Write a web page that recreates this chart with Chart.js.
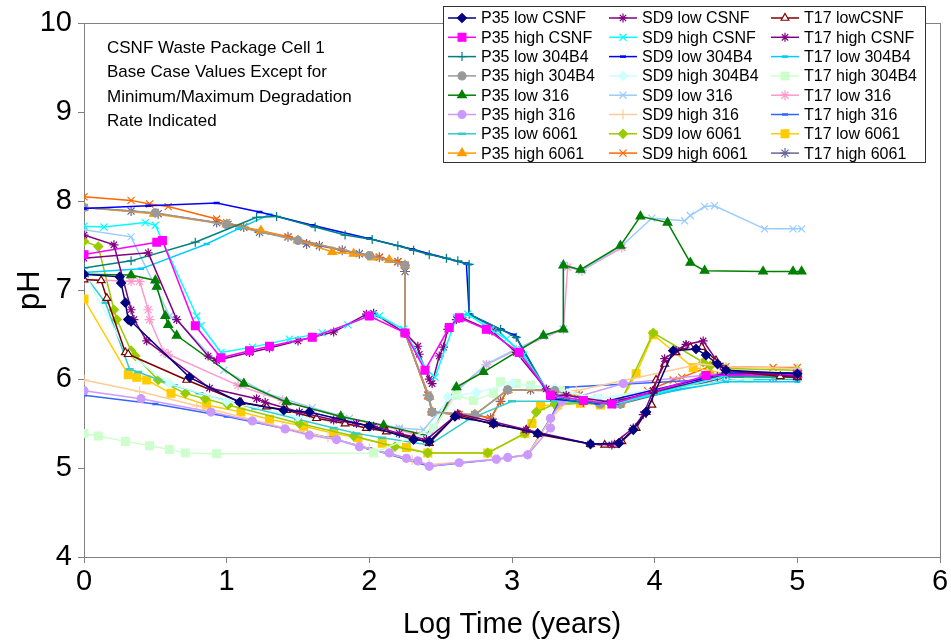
<!DOCTYPE html>
<html>
<head>
<meta charset="utf-8">
<script src="https://cdn.jsdelivr.net/npm/chart.js@4.4.0/dist/chart.umd.min.js"></script>
<style>
html, body { margin: 0; padding: 0; background: #fff; }
#wrap { width: 951px; height: 642px; }
</style>
</head>
<body>
<div id="wrap"><canvas id="chart" width="951" height="642"></canvas></div>
<script>
// --- axis ticks and labels ---
const xTicks = [0, 1, 2, 3, 4, 5, 6];
const yTicks = [4, 5, 6, 7, 8, 9, 10];
const xTitle = "Log Time (years)";
const yTitle = "pH";
const noteLines = ["CSNF Waste Package Cell 1", "Base Case Values Except for", "Minimum/Maximum Degradation", "Rate Indicated"];

// --- series values, [log time, pH] ---
const p35LowCsnf = [[0,7.18],[0.25,7.15],[0.26,7.08],[0.29,6.86],[0.31,6.67],[0.33,6.65],[0.74,6.02],[1.09,5.74],[1.40,5.65],[1.58,5.63],[2.0,5.47],[2.31,5.32],[2.42,5.30],[2.60,5.58],[2.87,5.50],[3.18,5.39],[3.55,5.27],[3.75,5.28],[3.85,5.43],[3.94,5.63],[4.13,6.32],[4.29,6.34],[4.36,6.27],[4.44,6.17],[4.50,6.10],[5.0,6.06]];
const sd9LowCsnf = [[0,7.62],[0.21,7.51],[0.33,6.78],[0.35,6.67],[0.44,6.43],[0.88,5.90],[1.21,5.78],[1.27,5.74],[1.51,5.63],[1.75,5.54],[1.91,5.50],[2.03,5.47],[2.21,5.39],[2.40,5.32],[2.62,5.61],[2.87,5.52],[3.10,5.43],[3.55,5.27],[3.70,5.26],[3.85,5.45],[3.92,5.60],[3.99,5.87],[4.07,6.23],[4.15,6.32],[4.22,6.39],[4.34,6.43],[4.46,6.15],[4.50,6.10],[5.0,6.03]];
const t17LowCsnf = [[0,7.12],[0.12,7.11],[0.16,6.91],[0.29,6.30],[0.31,6.28],[0.72,5.99],[1.10,5.74],[1.28,5.69],[1.42,5.65],[1.63,5.56],[1.83,5.50],[1.98,5.45],[2.12,5.41],[2.31,5.34],[2.42,5.28],[2.60,5.58],[2.62,5.60],[2.87,5.49],[3.10,5.43],[3.18,5.38],[3.55,5.27],[3.65,5.26],[3.72,5.26],[3.77,5.30],[3.87,5.45],[3.94,5.63],[3.98,5.71],[3.99,5.87],[4.01,5.99],[4.07,6.17],[4.15,6.30],[4.22,6.37],[4.25,6.36],[4.33,6.36],[4.43,6.21],[4.50,6.10],[4.88,6.03],[5.0,6.02]];
const p35HighCsnf = [[0,7.40],[0.51,7.54],[0.55,7.56],[0.78,6.60],[0.96,6.24],[1.16,6.32],[1.30,6.37],[1.60,6.47],[2.0,6.71],[2.25,6.52],[2.39,6.10],[2.56,6.58],[2.63,6.69],[2.82,6.56],[3.05,6.30],[3.27,5.82],[3.50,5.76],[3.70,5.72],[4.36,6.04],[5.0,6.05]];
const sd9HighCsnf = [[0,7.72],[0.14,7.71],[0.43,7.76],[0.50,7.73],[0.79,6.71],[0.82,6.60],[0.96,6.30],[1.18,6.36],[1.44,6.45],[1.67,6.52],[1.85,6.61],[2.02,6.73],[2.07,6.71],[2.24,6.56],[2.40,6.11],[2.46,6.02],[2.61,6.69],[2.69,6.73],[2.85,6.56],[2.96,6.45],[3.08,6.27],[3.27,5.82],[3.50,5.76],[3.72,5.72],[4.50,6.04],[5.0,6.04]];
const t17HighCsnf = [[0,7.36],[0.45,7.42],[0.65,6.67],[0.87,6.26],[0.93,6.21],[1.16,6.30],[1.30,6.35],[1.50,6.43],[1.75,6.53],[1.98,6.73],[2.03,6.74],[2.25,6.52],[2.34,6.37],[2.35,6.28],[2.42,6.00],[2.44,5.95],[2.49,6.26],[2.52,6.36],[2.55,6.56],[2.61,6.67],[2.65,6.69],[2.86,6.54],[3.03,6.30],[3.24,5.89],[3.29,5.82],[3.38,5.82],[3.69,5.74],[4.50,6.05],[5.0,6.04]];
const p35Low304 = [[0,7.25],[0.33,7.33],[0.78,7.54],[1.21,7.82],[1.35,7.83],[1.62,7.71],[1.83,7.62],[2.02,7.57],[2.20,7.50],[2.31,7.45],[2.42,7.40],[2.54,7.36],[2.62,7.33],[2.70,7.29],[2.70,6.73],[2.92,6.56],[3.03,6.47],[3.27,5.80],[3.50,5.74],[3.72,5.72],[4.44,6.03],[5.0,6.02]];
const sd9Low304 = [[0,7.92],[0.45,7.95],[0.93,7.98],[1.23,7.88],[1.60,7.73],[2.0,7.58],[2.30,7.46],[2.68,7.30],[2.70,6.73],[2.92,6.56],[3.01,6.50],[3.03,6.47],[3.27,5.78],[3.60,5.73],[4.50,6.07],[5.0,6.07]];
const t17Low304 = [[0,7.20],[0.40,7.24],[0.86,7.52],[1.08,7.69],[1.30,7.85],[1.62,7.72],[2.0,7.58],[2.30,7.46],[2.70,7.29],[2.70,6.73],[2.90,6.55],[3.08,6.27],[3.27,5.78],[3.60,5.72],[4.50,5.97],[5.0,5.97]];
const p35High304 = [[0,7.93],[0.50,7.87],[1.0,7.74],[1.50,7.56],[2.0,7.39],[2.25,7.28],[2.25,6.52],[2.42,5.80],[2.44,5.63],[2.74,5.60],[2.97,5.88],[3.30,5.87],[3.62,5.72],[3.76,5.72],[4.34,6.03],[5.0,6.03]];
const sd9High304 = [[0,7.20],[0.30,6.30],[0.60,5.95],[1.0,5.75],[1.50,5.58],[2.0,5.45],[2.20,5.38],[2.42,5.35],[2.55,5.80],[2.75,5.85],[3.0,5.95],[3.30,5.90],[3.60,5.78],[4.50,6.03],[5.0,6.03]];
const t17High304 = [[0,5.39],[0.10,5.36],[0.29,5.30],[0.46,5.25],[0.60,5.21],[0.71,5.17],[0.93,5.16],[2.03,5.17],[2.45,5.45],[2.61,5.82],[2.73,5.76],[2.87,5.84],[2.92,5.97],[3.03,5.95],[3.13,5.93],[3.34,5.87],[3.60,5.78],[4.66,6.01],[5.0,6.02]];
const p35Low316 = [[0,7.18],[0.33,7.17],[0.50,7.11],[0.51,7.04],[0.57,6.71],[0.59,6.61],[0.65,6.49],[1.12,5.95],[1.42,5.74],[1.80,5.58],[2.10,5.48],[2.42,5.36],[2.61,5.91],[2.80,6.08],[3.22,6.49],[3.36,6.56],[3.36,7.28],[3.48,7.23],[3.76,7.50],[3.90,7.83],[4.09,7.76],[4.25,7.31],[4.35,7.22],[4.76,7.21],[4.97,7.21],[5.03,7.21]];
const sd9Low316 = [[0,7.68],[0.33,7.60],[0.60,6.71],[0.65,6.67],[0.98,6.10],[1.28,5.84],[1.60,5.68],[1.86,5.56],[2.21,5.45],[2.38,5.43],[2.61,5.86],[2.82,6.17],[3.03,6.34],[3.22,6.48],[3.36,6.56],[3.36,7.28],[3.49,7.22],[3.77,7.50],[3.98,7.81],[4.21,7.78],[4.25,7.84],[4.35,7.94],[4.42,7.95],[4.77,7.69],[4.97,7.69],[5.03,7.69]];
const t17Low316 = [[0,7.12],[0.33,7.10],[0.39,7.10],[0.45,6.78],[0.46,6.67],[0.56,6.30],[0.59,6.28],[1.08,5.93],[1.39,5.76],[1.80,5.58],[2.21,5.43],[2.33,5.37],[2.42,5.34],[2.61,5.88],[2.82,6.16],[3.03,6.33],[3.36,6.56],[3.39,7.26],[3.49,7.22],[3.77,7.48]];
const p35High316 = [[0,5.87],[0.40,5.78],[0.89,5.63],[1.18,5.53],[1.41,5.44],[1.58,5.37],[1.77,5.32],[1.93,5.24],[2.14,5.17],[2.26,5.11],[2.34,5.08],[2.42,5.02],[2.63,5.06],[2.89,5.10],[2.97,5.12],[3.11,5.15],[3.27,5.45],[3.27,5.56],[3.35,5.75],[3.78,5.95],[4.50,6.07],[5.0,6.07]];
const sd9High316 = [[0,5.99],[0.39,5.86],[0.79,5.70],[1.39,5.46],[1.71,5.34],[2.0,5.22],[2.30,5.09],[2.42,5.04],[2.90,5.10],[3.11,5.15],[3.27,5.55],[3.45,5.87],[4.32,6.17],[4.50,6.14],[5.0,6.12]];
const t17High316 = [[0,5.82],[0.50,5.72],[1.0,5.58],[1.72,5.34],[2.0,5.22],[2.42,5.02],[2.90,5.10],[3.11,5.15],[3.27,5.56],[3.38,5.91],[4.32,5.99],[4.50,6.05],[5.0,6.05]];
const p35Low6061 = [[0,7.18],[0.15,6.86],[0.32,6.11],[0.38,6.08],[0.63,5.93],[0.81,5.84],[1.20,5.67],[1.50,5.55],[1.75,5.45],[1.91,5.39],[2.09,5.34],[2.42,5.26],[2.70,5.55],[3.0,5.75],[3.30,5.75],[3.70,5.72],[4.50,5.99],[5.0,6.00]];
const sd9Low6061 = [[0,7.55],[0.10,7.49],[0.21,6.78],[0.23,6.67],[0.33,6.32],[0.36,6.26],[0.52,5.99],[0.71,5.84],[0.85,5.78],[1.01,5.71],[1.51,5.50],[1.89,5.36],[2.18,5.24],[2.41,5.17],[2.83,5.17],[3.09,5.39],[3.17,5.63],[3.30,5.72],[3.76,5.74],[3.99,6.52],[4.34,6.19],[4.39,6.15],[4.50,6.12],[5.0,6.10]];
const t17Low6061 = [[0,6.90],[0.31,6.05],[0.37,6.02],[0.44,5.99],[0.61,5.84],[0.86,5.71],[1.10,5.63],[1.30,5.55],[1.54,5.47],[1.75,5.39],[1.92,5.34],[2.09,5.28],[2.26,5.23],[2.41,5.17],[2.83,5.17],[3.09,5.39],[3.14,5.50],[3.20,5.70],[3.32,5.71],[3.48,5.73],[3.62,5.71],[3.76,5.74],[3.87,6.06],[3.99,6.50],[4.27,6.13],[4.50,6.06],[5.0,6.04]];
const p35High6061 = [[0,7.93],[0.49,7.86],[1.0,7.74],[1.24,7.67],[1.50,7.56],[1.74,7.43],[1.89,7.41],[2.02,7.37],[2.14,7.34],[2.25,7.28],[2.25,6.52],[2.42,5.80],[2.44,5.63],[2.74,5.60],[2.97,5.88],[3.30,5.87],[3.62,5.72],[3.76,5.72],[4.40,6.05],[5.0,6.06]];
const sd9High6061 = [[0,8.05],[0.33,8.01],[0.46,7.97],[0.59,7.94],[0.93,7.80],[1.0,7.76],[1.12,7.71],[1.43,7.60],[1.81,7.45],[2.07,7.37],[2.20,7.32],[2.25,7.28],[2.25,6.52],[2.41,5.82],[2.44,5.63],[2.63,5.60],[2.74,5.60],[2.85,5.56],[2.92,5.75],[2.97,5.88],[3.13,5.88],[3.30,5.87],[3.47,5.82],[3.62,5.72],[3.76,5.72],[3.95,5.87],[4.13,5.99],[4.19,6.02],[4.43,6.17],[4.50,6.14],[4.83,6.13],[5.0,6.13]];
const t17High6061 = [[0,7.93],[0.33,7.89],[0.52,7.86],[0.93,7.76],[1.01,7.74],[1.12,7.71],[1.23,7.65],[1.43,7.60],[1.56,7.52],[1.65,7.50],[1.81,7.45],[1.93,7.41],[2.07,7.37],[2.20,7.32],[2.25,7.28],[2.25,7.21],[2.25,6.52],[2.41,5.82],[2.44,5.63],[2.63,5.60],[2.74,5.60],[2.85,5.56],[2.92,5.75],[2.97,5.88],[3.13,5.88],[3.30,5.87],[3.47,5.82],[3.62,5.72],[3.76,5.72],[4.50,6.02],[4.83,6.02],[5.0,6.02]];

// legend order (row by row, three columns)
const seriesNames = [
    "P35 low CSNF", "SD9 low CSNF", "T17 lowCSNF",
    "P35 high CSNF", "SD9 high CSNF", "T17 high CSNF",
    "P35 low 304B4", "SD9 low 304B4", "T17 low 304B4",
    "P35 high 304B4", "SD9 high 304B4", "T17 high 304B4",
    "P35 low 316", "SD9 low 316", "T17 low 316",
    "P35 high 316", "SD9 high 316", "T17 high 316",
    "P35 low 6061", "SD9 low 6061", "T17 low 6061",
    "P35 high 6061", "SD9 high 6061", "T17 high 6061"
];
const seriesValues = [
    p35LowCsnf, sd9LowCsnf, t17LowCsnf,
    p35HighCsnf, sd9HighCsnf, t17HighCsnf,
    p35Low304, sd9Low304, t17Low304,
    p35High304, sd9High304, t17High304,
    p35Low316, sd9Low316, t17Low316,
    p35High316, sd9High316, t17High316,
    p35Low6061, sd9Low6061, t17Low6061,
    p35High6061, sd9High6061, t17High6061
];

// colour, marker, marker size, marker fill
const seriesLook = [
    ["#000080", "rectRot", 4.5], ["#800080", "star", 4.5], ["#800000", "triangle", 4.5, "#ffffff"],
    ["#FF00FF", "rect", 5.5], ["#00FFFF", "crossRot", 5], ["#800080", "star", 4.5],
    ["#008080", "cross", 4.5], ["#0000FF", "line", 3], ["#00CCFF", "line", 3],
    ["#999999", "circle", 4], ["#CCFFFF", "rectRot", 4.5], ["#CCFFCC", "rect", 5.5],
    ["#008000", "triangle", 5], ["#99CCFF", "crossRot", 5], ["#FF99CC", "star", 5],
    ["#CC99FF", "circle", 4], ["#FFCC99", "cross", 5], ["#3366FF", "line", 3],
    ["#33CCCC", "line", 4], ["#99CC00", "rectRot", 4.5], ["#FFCC00", "rect", 5.5],
    ["#FF9900", "triangle", 5], ["#FF6600", "crossRot", 5], ["#666699", "star", 5]
];

const FONT = 'Arial, "Liberation Sans", sans-serif';

// plot frame (top and right sides) and the note text
const frameAndNote = {
    id: 'frameAndNote',
    beforeDatasetsDraw(chart) {
        const { ctx, chartArea: a } = chart;
        ctx.save();
        ctx.strokeStyle = "#808080";
        ctx.lineWidth = 1;
        ctx.strokeRect(Math.round(a.left) + 0.5, Math.round(a.top) + 0.5, Math.round(a.right - a.left), Math.round(a.bottom - a.top));
        ctx.fillStyle = "#000";
        ctx.font = `17px ${FONT}`;
        ctx.textBaseline = "middle";
        noteLines.forEach((t, i) => ctx.fillText(t, 107, 48 + i * 24.5));
        ctx.restore();
    }
};

// boxed legend, three columns
const boxLegend = {
    id: 'boxLegend',
    afterDraw(chart) {
        const ctx = chart.ctx;
        const x0 = 443, y0 = 6, w = 482, h = 156;
        const colX = [448, 609, 771];
        ctx.save();
        ctx.fillStyle = "#fff";
        ctx.fillRect(x0, y0, w, h);
        ctx.strokeStyle = "#333";
        ctx.lineWidth = 1;
        ctx.strokeRect(x0 + 0.5, y0 + 0.5, w, h);
        ctx.font = `16px ${FONT}`;
        ctx.textBaseline = "middle";
        chart.data.datasets.forEach((ds, i) => {
            const lx = colX[i % 3];
            const ly = 18 + Math.floor(i / 3) * 19.3;
            ctx.strokeStyle = ds.borderColor;
            ctx.lineWidth = 1.5;
            ctx.beginPath();
            ctx.moveTo(lx, ly);
            ctx.lineTo(lx + 28, ly);
            ctx.stroke();
            ctx.fillStyle = ds.pointBackgroundColor;
            ctx.strokeStyle = ds.pointBorderColor;
            ctx.lineWidth = ds.pointStyle === "line" ? 2.5 : 1.2;
            Chart.helpers.drawPoint(ctx, { pointStyle: ds.pointStyle, radius: ds.pointRadius, rotation: 0, borderWidth: 1 }, lx + 14, ly);
            ctx.fillStyle = "#000";
            ctx.fillText(ds.label, lx + 33, ly + 1);
        });
        ctx.restore();
    }
};

const datasets = seriesNames.map((name, i) => {
    const [color, marker, size, fill] = seriesLook[i];
    return {
        label: name,
        data: seriesValues[i].map(([x, y]) => ({ x, y })),
        showLine: true,
        borderColor: color,
        backgroundColor: color,
        borderWidth: 1.5,
        pointStyle: marker,
        pointRadius: size,
        pointBackgroundColor: fill || color,
        pointBorderColor: color,
        pointBorderWidth: marker === "line" ? 2.5 : 1.2,
        tension: 0
    };
});

new Chart(document.getElementById("chart"), {
    type: "scatter",
    data: { datasets },
    options: {
        responsive: false,
        animation: false,
        devicePixelRatio: 1,
        layout: { padding: { top: 17, right: 11, left: 0, bottom: 0 } },
        plugins: {
            legend: { display: false },
            tooltip: { enabled: false }
        },
        scales: {
            x: {
                type: "linear",
                min: xTicks[0],
                max: xTicks[xTicks.length - 1],
                afterBuildTicks(s) { s.ticks = xTicks.map(v => ({ value: v })); },
                ticks: { color: "#000", font: { size: 29, family: FONT }, padding: 2 },
                grid: { drawOnChartArea: false, drawTicks: true, tickLength: 6, color: "#808080" },
                border: { display: true, color: "#808080" },
                title: { display: true, text: xTitle, color: "#000", font: { size: 29, family: FONT }, padding: { top: 0, bottom: 0 } },
                afterFit(s) { s.height = 85; }
            },
            y: {
                min: yTicks[0],
                max: yTicks[yTicks.length - 1],
                afterBuildTicks(s) { s.ticks = yTicks.map(v => ({ value: v })); },
                ticks: { color: "#000", font: { size: 29, family: FONT }, padding: 6 },
                grid: { drawOnChartArea: false, drawTicks: true, tickLength: 6, color: "#808080" },
                border: { display: true, color: "#808080" },
                title: { display: true, text: yTitle, color: "#000", font: { size: 31, family: FONT }, padding: { top: 12, bottom: 0 } },
                afterFit(s) { s.width = 84; }
            }
        }
    },
    plugins: [frameAndNote, boxLegend]
});
</script>
</body>
</html>
